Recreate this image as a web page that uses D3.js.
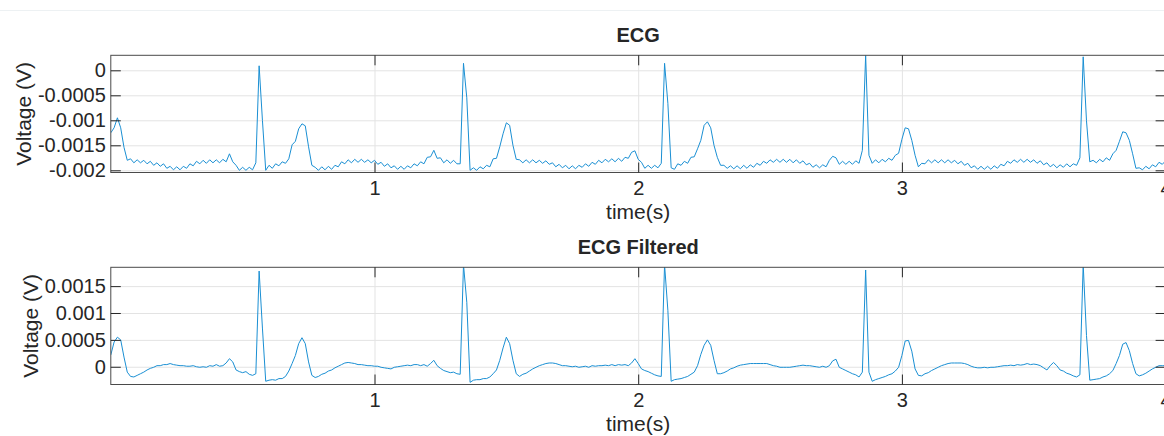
<!DOCTYPE html>
<html><head><meta charset="utf-8">
<script src="https://cdn.jsdelivr.net/npm/d3@7"></script>
<style>
body{margin:0;background:#fff;}
svg{display:block;}
text{font-family:"Liberation Sans",Arial,Helvetica,sans-serif;fill:#262626;}
</style>
</head><body>
<svg id="c" width="1164" height="436"></svg>
<script>
// ---------------- data ----------------
const sampleStep = 0.0125; // seconds between samples
const ecgRaw = [
-0.00125,-0.00115,-0.00095,-0.00115,-0.00154,-0.00180,-0.00177,-0.00185,-0.00179,-0.00185,
-0.00180,-0.00187,-0.00182,-0.00190,-0.00185,-0.00192,-0.00187,-0.00196,-0.00192,-0.00199,
-0.00193,-0.00199,-0.00192,-0.00196,-0.00187,-0.00191,-0.00182,-0.00187,-0.00180,-0.00186,
-0.00179,-0.00185,-0.00179,-0.00185,-0.00178,-0.00183,-0.00167,-0.00183,-0.00190,-0.00200,
-0.00194,-0.00200,-0.00194,-0.00199,-0.00185,0.00009,-0.00100,-0.00200,-0.00190,-0.00196,
-0.00187,-0.00191,-0.00183,-0.00186,-0.00177,-0.00149,-0.00142,-0.00117,-0.00107,-0.00111,
-0.00153,-0.00190,-0.00194,-0.00200,-0.00193,-0.00199,-0.00192,-0.00198,-0.00190,-0.00193,
-0.00183,-0.00187,-0.00179,-0.00185,-0.00178,-0.00184,-0.00178,-0.00184,-0.00179,-0.00185,
-0.00180,-0.00188,-0.00184,-0.00192,-0.00187,-0.00195,-0.00191,-0.00198,-0.00192,-0.00198,
-0.00191,-0.00195,-0.00187,-0.00191,-0.00183,-0.00187,-0.00174,-0.00173,-0.00160,-0.00176,
-0.00175,-0.00185,-0.00179,-0.00186,-0.00180,-0.00187,-0.00187,0.00014,-0.00055,-0.00200,
-0.00195,-0.00200,-0.00193,-0.00197,-0.00190,-0.00193,-0.00177,-0.00176,-0.00153,-0.00127,
-0.00105,-0.00110,-0.00150,-0.00178,-0.00179,-0.00185,-0.00179,-0.00185,-0.00179,-0.00185,
-0.00180,-0.00186,-0.00181,-0.00188,-0.00185,-0.00193,-0.00188,-0.00195,-0.00190,-0.00197,
-0.00191,-0.00197,-0.00190,-0.00194,-0.00187,-0.00192,-0.00184,-0.00188,-0.00180,-0.00185,
-0.00178,-0.00183,-0.00177,-0.00183,-0.00176,-0.00182,-0.00174,-0.00176,-0.00164,-0.00161,
-0.00178,-0.00184,-0.00196,-0.00190,-0.00196,-0.00190,-0.00195,-0.00186,0.00014,-0.00066,
-0.00195,-0.00198,-0.00187,-0.00190,-0.00182,-0.00186,-0.00174,-0.00173,-0.00157,-0.00140,
-0.00110,-0.00103,-0.00115,-0.00150,-0.00174,-0.00190,-0.00190,-0.00196,-0.00191,-0.00197,
-0.00191,-0.00197,-0.00190,-0.00196,-0.00189,-0.00194,-0.00186,-0.00190,-0.00182,-0.00186,
-0.00179,-0.00184,-0.00178,-0.00184,-0.00178,-0.00184,-0.00178,-0.00185,-0.00179,-0.00186,
-0.00181,-0.00189,-0.00186,-0.00194,-0.00189,-0.00195,-0.00189,-0.00193,-0.00180,-0.00172,
-0.00175,-0.00188,-0.00182,-0.00188,-0.00182,-0.00188,-0.00181,-0.00186,-0.00160,0.00030,
-0.00170,-0.00186,-0.00179,-0.00185,-0.00178,-0.00183,-0.00176,-0.00180,-0.00170,-0.00166,
-0.00138,-0.00115,-0.00117,-0.00140,-0.00170,-0.00193,-0.00186,-0.00187,-0.00179,-0.00185,
-0.00179,-0.00185,-0.00179,-0.00185,-0.00179,-0.00185,-0.00180,-0.00187,-0.00182,-0.00190,
-0.00186,-0.00195,-0.00191,-0.00198,-0.00192,-0.00198,-0.00192,-0.00198,-0.00191,-0.00196,
-0.00188,-0.00191,-0.00182,-0.00186,-0.00179,-0.00184,-0.00178,-0.00184,-0.00178,-0.00184,
-0.00179,-0.00186,-0.00181,-0.00189,-0.00185,-0.00193,-0.00188,-0.00195,-0.00189,-0.00194,
-0.00187,-0.00193,-0.00187,-0.00190,-0.00175,0.00027,-0.00101,-0.00183,-0.00180,-0.00185,
-0.00178,-0.00183,-0.00175,-0.00180,-0.00167,-0.00160,-0.00142,-0.00123,-0.00125,-0.00140,
-0.00167,-0.00196,-0.00195,-0.00199,-0.00192,-0.00197,-0.00189,-0.00193,-0.00184,-0.00188,
-0.00181,-0.00187
];
const ecgFiltered = [
0.00022,0.00046,0.00055,0.00050,0.00018,-0.00010,-0.00018,-0.00019,-0.00016,-0.00013,
-0.00010,-0.00006,-0.00003,-0.00001,0.00002,0.00002,0.00004,0.00004,0.00006,0.00004,
0.00003,0.00002,0.00002,0.00001,0.00001,0.00002,0,-0.00001,0,-0.00001,
0.00002,0.00001,0.00004,0.00001,0.00002,0.00007,0.00015,0.00009,-0.00006,-0.00009,
-0.00011,-0.00009,-0.00014,-0.00016,-0.00013,0.00178,0.00072,-0.00027,-0.00025,-0.00024,
-0.00025,-0.00022,-0.00022,-0.00018,-0.00008,0.00006,0.00021,0.00043,0.00054,0.00043,
0.00009,-0.00016,-0.00020,-0.00018,-0.00014,-0.00012,-0.00008,-0.00006,-0.00002,0.00001,
0.00004,0.00007,0.00008,0.00007,0.00006,0.00004,0.00004,0.00003,0.00002,0.00002,
0.00001,0.00001,-0.00001,-0.00002,-0.00003,-0.00004,-0.00001,0,0.00001,0.00002,
0.00003,0.00002,0.00004,0.00004,0.00002,0.00004,0.00001,0.00006,0.00012,0.00002,
-0.00003,-0.00007,-0.00009,-0.00011,-0.00010,-0.00013,-0.00014,0.00190,0.00120,-0.00029,
-0.00025,-0.00024,-0.00024,-0.00022,-0.00022,-0.00019,-0.00013,-0.00006,0.00012,0.00035,
0.00055,0.00043,0.00012,-0.00013,-0.00018,-0.00014,-0.00012,-0.00008,-0.00004,-0.00001,
0.00002,0.00004,0.00006,0.00007,0.00007,0.00006,0.00004,0.00002,0.00002,0.00001,
0,0.00001,-0.00001,0,0.00001,-0.00001,0.00002,0.00001,0.00002,0.00002,
0.00003,0.00002,0.00004,0.00002,0.00004,0.00003,0.00004,0.00002,0.00007,0.00015,
0.00006,-0.00004,-0.00007,-0.00009,-0.00012,-0.00015,-0.00017,-0.00018,0.00190,0.00105,
-0.00027,-0.00024,-0.00023,-0.00022,-0.00020,-0.00018,-0.00014,-0.00010,0.00002,0.00023,
0.00040,0.00050,0.00040,0.00012,-0.00013,-0.00013,-0.00011,-0.00008,-0.00004,-0.00002,
0.00001,0.00003,0.00004,0.00005,0.00006,0.00006,0.00006,0.00006,0.00006,0.00006,
0.00004,0.00002,0.00001,-0.00001,-0.00001,-0.00001,-0.00001,0,0.00001,0.00002,
0.00003,0.00002,0.00002,0.00001,0,-0.00001,0.00001,-0.00001,0.00002,0.00011,
0.00014,-0.00001,-0.00004,-0.00007,-0.00010,-0.00013,-0.00015,-0.00019,-0.00010,0.00180,
-0.00010,-0.00027,-0.00024,-0.00022,-0.00020,-0.00018,-0.00015,-0.00013,-0.00008,-0.00001,
0.00021,0.00048,0.00049,0.00029,-0.00004,-0.00016,-0.00017,-0.00013,-0.00011,-0.00007,
-0.00004,-0.00001,0.00002,0.00004,0.00006,0.00007,0.00007,0.00007,0.00007,0.00006,
0.00004,0.00001,-0.00001,-0.00002,-0.00002,-0.00001,-0.00002,-0.00001,-0.00001,0,
0.00001,0.00002,0.00002,0.00003,0.00002,0.00004,0.00003,0.00004,0.00006,0.00004,
0.00005,0.00004,0.00002,-0.00002,-0.00006,0.00002,0.00008,0.00002,-0.00006,-0.00008,
-0.00012,-0.00014,-0.00017,-0.00019,-0.00015,0.00190,0.00058,-0.00025,-0.00024,-0.00023,
-0.00022,-0.00019,-0.00017,-0.00013,-0.00007,0.00006,0.00021,0.00042,0.00045,0.00030,
0.00006,-0.00013,-0.00017,-0.00015,-0.00012,-0.00008,-0.00004,-0.00001,0.00002,0.00002,
0.00002,0.00003
];
const xTicks = [1, 2, 3, 4];
const xTickLabels = ["1", "2", "3", "4"];
const rawTicks = [0, -0.0005, -0.001, -0.0015, -0.002];
const rawTickLabels = ["0", "-0.0005", "-0.001", "-0.0015", "-0.002"];
const filtTicks = [0, 0.0005, 0.001, 0.0015];
const filtTickLabels = ["0", "0.0005", "0.001", "0.0015"];
const titles = ["ECG", "ECG Filtered"];
const xLabel = "time(s)";
const yLabel = "Voltage (V)";
const xDomain = [0, 4.0];
const rawDomain = [-0.002044, 0.0003];
const filtDomain = [-0.00033, 0.00185];

// ---------------- drawing ----------------
const svg = d3.select("#c");
const left = 110.8, right = 1165.6;
const tickFont = 20, labelFont = 21, titleFont = 20;
const lineColor = "#1a8fd3";

svg.append("line").attr("x1", 0).attr("x2", 1164).attr("y1", 10.5).attr("y2", 10.5)
  .attr("stroke", "#edf1f3").attr("stroke-width", 1);

const panels = [
  {title: titles[0], values: ecgRaw, domain: rawDomain, top: 55.3, bottom: 172.5,
   ticks: rawTicks, labels: rawTickLabels, ylabX: 31},
  {title: titles[1], values: ecgFiltered, domain: filtDomain, top: 267.3, bottom: 384.5,
   ticks: filtTicks, labels: filtTickLabels, ylabX: 38}
];

const x = d3.scaleLinear().domain(xDomain).range([left, right]);

panels.forEach((p, pi) => {
  const y = d3.scaleLinear().domain(p.domain).range([p.bottom, p.top]);
  const g = svg.append("g");
  const w = right - left, h = p.bottom - p.top;

  // grid
  const gx = g.append("g").attr("transform", `translate(0,${p.bottom})`)
    .call(d3.axisBottom(x).tickValues(xTicks).tickSize(-h).tickFormat(""));
  const gy = g.append("g").attr("transform", `translate(${left},0)`)
    .call(d3.axisLeft(y).tickValues(p.ticks).tickSize(-w).tickFormat(""));
  [gx, gy].forEach(a => {
    a.select(".domain").remove();
    a.selectAll("line").attr("stroke", "#e3e3e3").attr("stroke-width", 1);
  });

  // clip & line
  const cid = "clip" + pi;
  svg.append("clipPath").attr("id", cid).append("rect")
    .attr("x", left).attr("y", p.top).attr("width", w).attr("height", h);
  const line = d3.line().x((d, i) => x(i * sampleStep)).y(d => y(d));
  g.append("path").datum(p.values).attr("clip-path", `url(#${cid})`)
    .attr("d", line).attr("fill", "none").attr("stroke", lineColor)
    .attr("stroke-width", 1).attr("stroke-linejoin", "round");

  // box
  g.append("rect").attr("x", left).attr("y", p.top).attr("width", w).attr("height", h)
    .attr("fill", "none").attr("stroke", "#4a4a4a").attr("stroke-width", 1);

  // axes with inward ticks
  const ax = g.append("g").attr("transform", `translate(0,${p.bottom})`)
    .call(d3.axisBottom(x).tickValues(xTicks).tickSize(-10).tickSizeOuter(0).tickPadding(8.3)
      .tickFormat((d, i) => xTickLabels[i]));
  const axT = g.append("g").attr("transform", `translate(0,${p.top})`)
    .call(d3.axisTop(x).tickValues(xTicks).tickSize(-10).tickSizeOuter(0).tickFormat(""));
  const ay = g.append("g").attr("transform", `translate(${left},0)`)
    .call(d3.axisLeft(y).tickValues(p.ticks).tickSize(-10).tickSizeOuter(0).tickPadding(5)
      .tickFormat((d, i) => p.labels[i]));
  const ayR = g.append("g").attr("transform", `translate(${right},0)`)
    .call(d3.axisRight(y).tickValues(p.ticks).tickSize(-10).tickSizeOuter(0).tickFormat(""));
  [ax, axT, ay, ayR].forEach(a => {
    a.select(".domain").remove();
    a.selectAll("line").attr("stroke", "#262626").attr("stroke-width", 1);
    a.selectAll("text").attr("font-size", tickFont).attr("fill", "#262626")
      .style("font-family", '"Liberation Sans",Arial,sans-serif');
  });

  // title
  g.append("text").attr("x", (left + right) / 2).attr("y", p.top - 13)
    .attr("text-anchor", "middle").attr("font-weight", "bold").attr("font-size", titleFont)
    .text(p.title);
  // x label
  g.append("text").attr("x", (left + right) / 2).attr("y", p.bottom + 46)
    .attr("text-anchor", "middle").attr("font-size", labelFont).text(xLabel);
  // y label
  g.append("text").attr("transform", `translate(${p.ylabX},${(p.top + p.bottom) / 2}) rotate(-90)`)
    .attr("text-anchor", "middle").attr("font-size", labelFont).text(yLabel);
});
</script>
</body></html>
